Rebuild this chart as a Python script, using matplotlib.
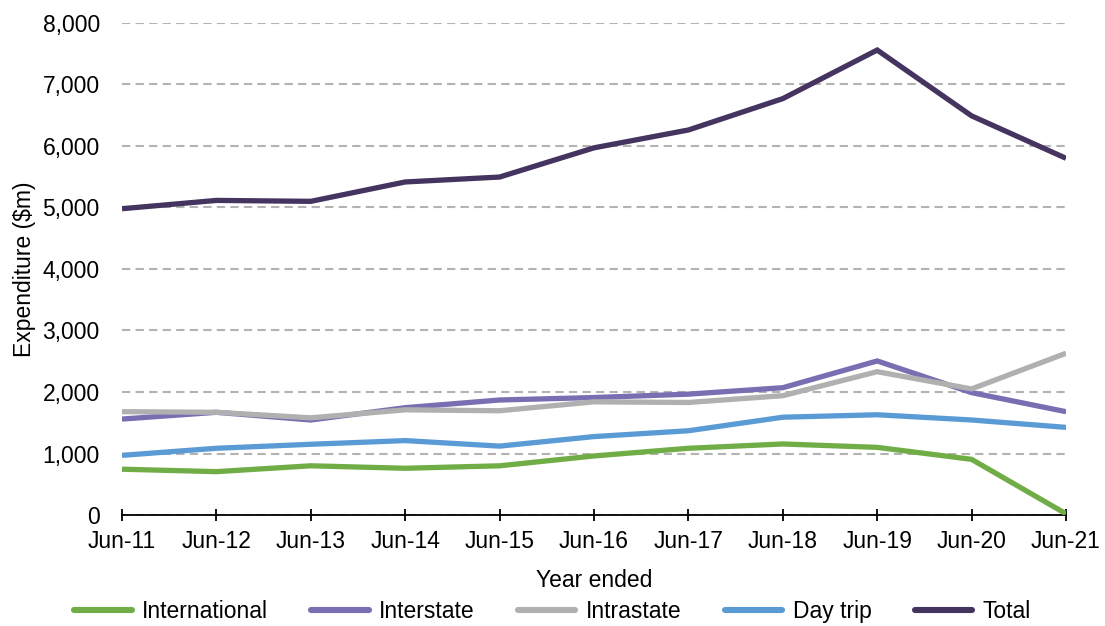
import matplotlib.pyplot as plt
from matplotlib.ticker import FuncFormatter

# Visitor expenditure by trip type, year ended June ($m)
years = ['Jun-11', 'Jun-12', 'Jun-13', 'Jun-14', 'Jun-15', 'Jun-16',
         'Jun-17', 'Jun-18', 'Jun-19', 'Jun-20', 'Jun-21']
international = [745, 705, 800, 760, 800, 960, 1085, 1155, 1100, 905, 20]
interstate = [1560, 1670, 1545, 1745, 1870, 1910, 1965, 2070, 2505, 1990, 1680]
intrastate = [1680, 1670, 1580, 1710, 1695, 1840, 1830, 1940, 2330, 2050, 2630]
day_trip = [970, 1085, 1150, 1210, 1120, 1275, 1370, 1590, 1630, 1545, 1425]
total = [4980, 5115, 5100, 5415, 5495, 5970, 6260, 6770, 7560, 6490, 5800]

series = [
    ('International', international, '#70AD47'),
    ('Interstate', interstate, '#7A6DB2'),
    ('Intrastate', intrastate, '#B0B0B0'),
    ('Day trip', day_trip, '#5B9BD5'),
    ('Total', total, '#44345F'),
]

plt.rcParams['font.family'] = ['Liberation Sans', 'DejaVu Sans']
plt.rcParams['font.size'] = 16.5

fig = plt.figure(figsize=(11.05, 6.26), dpi=100)
ax = fig.add_axes([0.1104, 0.1773, 0.8543, 0.786])

x = list(range(len(years)))
for name, vals, col in series:
    ax.plot(x, vals, color=col, linewidth=3.8, label=name,
            solid_joinstyle='miter', solid_capstyle='butt')

ax.set_xlim(0, len(years) - 1)
ax.set_ylim(0, 8000)
ax.set_yticks(range(0, 8001, 1000))
ax.yaxis.set_major_formatter(FuncFormatter(lambda v, p: f'{int(v):,}'))
ax.set_xticks(x)
ax.set_xticklabels(years)

ax.grid(axis='y', color='#B3B3B3', linestyle=(0, (4, 2.5)), linewidth=1.5)
ax.set_axisbelow(True)
for s in ['top', 'right', 'left']:
    ax.spines[s].set_visible(False)
ax.spines['bottom'].set_linewidth(1.3)
ax.spines['bottom'].set_zorder(1)

ax.tick_params(axis='y', length=0, pad=16)
ax.tick_params(axis='x', direction='inout', length=8, width=1.3, pad=7)

ax.set_xlabel('Year ended', labelpad=11)
ax.set_ylabel('Expenditure ($m)', labelpad=5)

leg = fig.legend(loc='lower center', ncol=5, frameon=False,
                 bbox_to_anchor=(0.5, -0.028), handlelength=2.5,
                 handletextpad=0.45, columnspacing=1.9)
for line in leg.get_lines():
    line.set_linewidth(4.4)
    line.set_solid_capstyle('round')

fig.savefig('out.png', dpi=100)
